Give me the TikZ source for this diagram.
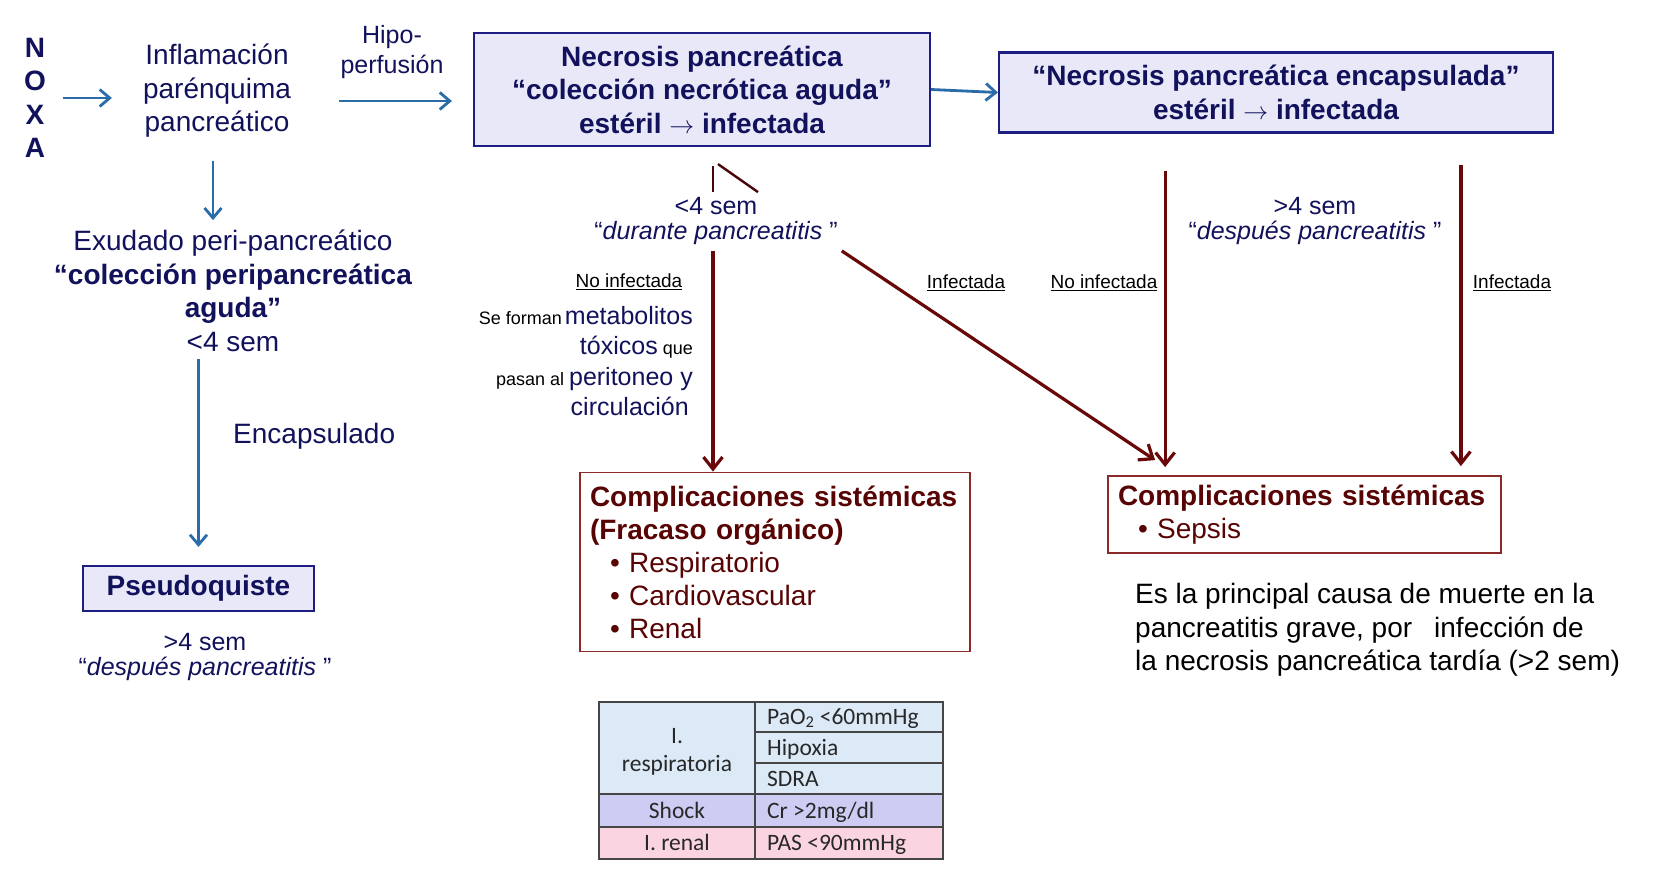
\documentclass[tikz,border=0pt]{standalone}
\usepackage{fontspec}
\setmainfont{Liberation Sans}
\newfontfamily\tablefont{Carlito}
\usetikzlibrary{
    arrows.meta,
    calc
}
\definecolor{navy}{RGB}{18,18,92}
\definecolor{boxfill}{RGB}{232,232,248}
\definecolor{boxline}{RGB}{30,30,130}
\definecolor{flowblue}{RGB}{42,108,168}
\definecolor{flowred}{RGB}{105,8,8}
\definecolor{maroon}{RGB}{88,4,4}
\definecolor{complline}{RGB}{140,42,42}
\definecolor{tabline}{RGB}{70,70,70}
\definecolor{tabtext}{RGB}{40,40,40}
\definecolor{rowresp}{RGB}{220,233,246}
\definecolor{rowshock}{RGB}{205,205,243}
\definecolor{rowrenal}{RGB}{250,212,224}
\newcommand{\fsz}[2]{\fontsize{#1}{#2}\selectfont}
\tikzset{
    line cap=round,
    line join=round,
    txt/.style={
        inner sep=0pt,
        align=center,
        text=navy,
        font=\fsz{28}{33.5}
    },
    stagebox/.style={
        rectangle,
        draw=boxline,
        line width=2.2pt,
        fill=boxfill,
        inner sep=0pt,
        align=center,
        text=navy,
        font=\bfseries\fsz{28}{33.5}
    },
    timetag/.style={
        txt,
        font=\fsz{25}{25}
    },
    branchtag/.style={
        txt,
        text=black,
        font=\fsz{19}{22}
    },
    complbox/.style={
        rectangle,
        draw=complline,
        line width=1.8pt,
        fill=white,
        inner xsep=10pt,
        inner ysep=0pt,
        align=left,
        text=maroon,
        font=\fsz{28}{33}
    },
    blueflow/.style={
        -{Straight Barb[length=10pt, width=17pt]},
        draw=flowblue,
        line width=2.8pt
    },
    redflow/.style={
        -{Straight Barb[length=12pt, width=19pt]},
        draw=flowred,
        line width=3.2pt
    },
    redmark/.style={
        draw=flowred!70!black,
        line width=2.4pt
    },
    cell/.style={
        inner sep=0pt,
        text=tabtext,
        font=\tablefont\fsz{23.5}{28}
    },
    grid/.style={
        draw=tabline,
        line width=1.8pt
    }
}

\begin{document}
\begin{tikzpicture}[x=1pt, y=-1pt]

\path[fill=white] (0,0) rectangle (1655,889);
\useasboundingbox (0,0) rectangle (1655,889);

% left branch
\node[txt, font=\bfseries\fsz{28}{33.5}] (noxa) at (35,98) {N\\O\\X\\A};
\node[txt] (inflam) at (217,91) {Inflamación\\parénquima\\pancreático};
\node[txt, font=\fsz{25}{30}] (hipo) at (392,52) {Hipo-\\perfusión};
\node[txt] (exud) at (233,291) {Exudado peri-pancreático\\\textbf{“colección peripancreática}\\\textbf{aguda”}\\<4 sem};
\node[txt, anchor=west] (encapsulado) at (233,436) {Encapsulado};
\node[stagebox, minimum width=231pt, minimum height=45pt] (pseudo) at (198.5,588.5) {Pseudoquiste};
\node[timetag] (pseudotime) at (205,657) {>4 sem\\“\textit{después pancreatitis} ”};

% necrosis boxes
\node[stagebox, minimum width=456pt, minimum height=113pt] (necro) at (702,89.5) {Necrosis pancreática\\“colección necrótica aguda”\\estéril $\rightarrow$ infectada};
\node[stagebox, minimum width=554pt, minimum height=80pt] (encap) at (1276,92.5) {“Necrosis pancreática encapsulada”\\estéril $\rightarrow$ infectada};

\node[timetag] (durante) at (716,221) {<4 sem\\“\textit{durante pancreatitis} ”};
\node[timetag] (despues) at (1315,221) {>4 sem\\“\textit{después pancreatitis} ”};

\node[branchtag] (noinfA) at (629,282) {\underline{No infectada}};
\node[branchtag] (infA) at (966,283) {\underline{Infectada}};
\node[branchtag] (noinfB) at (1104,283) {\underline{No infectada}};
\node[branchtag] (infB) at (1512,283) {\underline{Infectada}};

\node[txt, anchor=east, align=right, text=black, font=\fsz{18}{30.5}] (metab) at (693,361)
    {Se forman\,{\color{navy}\fsz{25}{30.5}metabolitos}\\
     {\color{navy}\fsz{25}{30.5}tóxicos} que\hspace*{9pt}\\
     pasan al {\color{navy}\fsz{25}{30.5}peritoneo y}\\
     {\color{navy}\fsz{25}{30.5}circulación}\hspace*{4pt}};

% complications
\node[complbox, minimum width=390pt, minimum height=179pt, text width=370pt] (sistA) at (775,562)
    {\textbf{Complicaciones sistémicas}\\
     \textbf{(Fracaso orgánico)}\\
     \hspace*{20pt}• Respiratorio\\
     \hspace*{20pt}• Cardiovascular\\
     \hspace*{20pt}• Renal};
\node[complbox, minimum width=393pt, minimum height=77pt, text width=373pt] (sistB) at (1304.5,514.5)
    {\textbf{Complicaciones sistémicas}\\
     \hspace*{20pt}• Sepsis};
\node[txt, anchor=west, align=left, text=black] (causa) at (1135,630)
    {Es la principal causa de muerte en la\\
     pancreatitis grave, por\hspace{22pt}infección de\\
     la necrosis pancreática tardía (>2 sem)};

% table
\fill[rowresp] (599,702) rectangle (943,794);
\fill[rowshock] (599,794) rectangle (943,827);
\fill[rowrenal] (599,827) rectangle (943,859);
\draw[grid] (599,702) rectangle (943,859)
    (755,702) -- (755,859)
    (599,794) -- (943,794)
    (599,827) -- (943,827);
\foreach \y in {732,763}
    \draw[grid] (755,\y) -- (943,\y);
\node[cell, align=center] (cellresp) at (677,752) {I.\\respiratoria};
\node[cell, anchor=base] (cellshock) at (677,818) {Shock};
\node[cell, anchor=base] (cellrenal) at (677,850) {I. renal};
\foreach \i/\y/\val in {
    1/724/{PaO\textsubscript{2} <60mmHg},
    2/755/Hipoxia,
    3/786/SDRA,
    4/818/{Cr >2mg/dl},
    5/850/{PAS <90mmHg}
} {
    \node[cell, anchor=base west] (val\i) at (767,\y) {\val};
}

% connectors
\draw[blueflow, shorten <=17pt, shorten >=31pt] (noxa.east) -- (noxa.east -| inflam.west);
\draw[blueflow, shorten <=48pt, shorten >=21pt] ([yshift=-10pt]inflam.east) -- ([yshift=-10pt]inflam.east -| necro.west);
\draw[blueflow] (necro.east) -- (encap.west);
\draw[blueflow, shorten <=23pt, shorten >=10pt] ([xshift=-4pt]inflam.south) -- ([xshift=-4pt]inflam.south |- exud.north);
\draw[blueflow, shorten <=7pt, shorten >=18pt] (pseudo.north |- exud.south) -- (pseudo.north);

\draw[redmark] ([shift={(-3,-5)}]durante.north) -- ++(0,-26);
\draw[redmark] ([shift={(2,-33)}]durante.north) -- ++(40,28);

\draw[redflow, shorten <=6pt] ([xshift=-3pt]durante.south) -- ([xshift=-3pt]durante.south |- sistA.north);
\draw[redflow] ([shift={(4,6)}]durante.south east) -- ([shift={(48,-15)}]sistB.north west);

\coordinate (sepsisL) at ([xshift=58pt]sistB.north west);
\coordinate (sepsisR) at ([xshift=-41pt]sistB.north east);
\draw[redflow, shorten <=37pt, shorten >=8pt] (sepsisL |- encap.south) -- (sepsisL);
\draw[redflow, shorten <=31pt, shorten >=9pt] (sepsisR |- encap.south) -- (sepsisR);

\end{tikzpicture}
\end{document}
